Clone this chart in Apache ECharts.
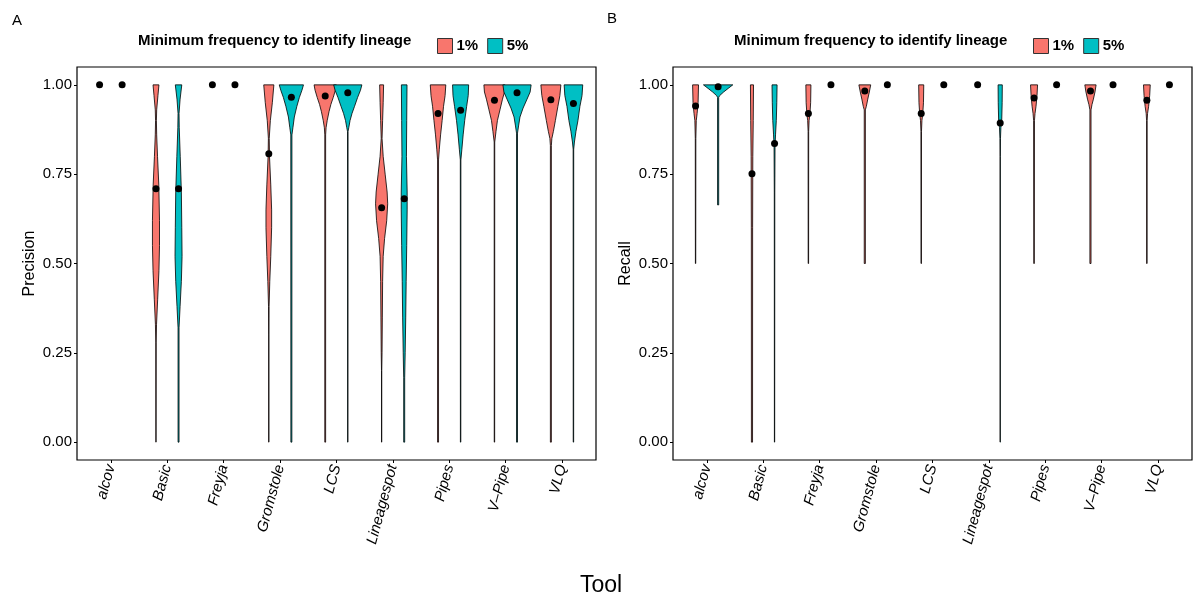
<!DOCTYPE html>
<html>
<head>
<meta charset="utf-8">
<title>Precision / Recall by tool</title>
<script src="https://cdn.jsdelivr.net/npm/echarts@6/dist/echarts.min.js"></script>
<style>
  html, body { margin: 0; padding: 0; background: #fff; }
  #chart { width: 1196px; height: 600px; }
</style>
</head>
<body>
<div id="chart"></div>
<script>
// tools on the x axis
var tools = ['alcov', 'Basic', 'Freyja', 'Gromstole', 'LCS', 'Lineagespot', 'Pipes', 'V\u2013Pipe', 'VLQ'];
var yTicks = [0, 0.25, 0.5, 0.75, 1];

// mean values (black dots)
var precisionMean1 = [1, 0.709, 1, 0.807, 0.969, 0.656, 0.92, 0.957, 0.958];
var precisionMean5 = [1, 0.709, 1, 0.965, 0.978, 0.681, 0.929, 0.978, 0.948];
var recallMean1 = [0.941, 0.751, 0.92, 0.983, 0.92, 1, 0.963, 0.983, 0.957];
var recallMean5 = [0.995, 0.836, 1, 1, 1, 0.893, 1, 1, 1];

// violin profiles: [value, relative density width (100 = widest)], null = no spread
var precisionViolin1 = [
  null,
  [[1,21],[0.97,14],[0.93,5],[0.9,3],[0.86,5],[0.8,11],[0.72,20],[0.62,25],[0.55,25],[0.48,21],[0.4,12],[0.33,4],[0.28,1.5],[0,0.8]],
  null,
  [[1,36],[0.95,25],[0.9,11],[0.85,3],[0.8,5],[0.72,14],[0.65,20],[0.6,20],[0.52,14],[0.45,7],[0.38,2],[0.3,1],[0,1]],
  [[1,79],[0.985,72],[0.965,57],[0.945,40],[0.925,27],[0.9,14],[0.88,6],[0.86,3],[0,3]],
  [[1,14],[0.95,11],[0.9,7],[0.85,3],[0.8,11],[0.75,25],[0.7,39],[0.667,43],[0.62,36],[0.57,21],[0.52,11],[0.45,7],[0.35,5],[0.25,3],[0.2,1],[0,1]],
  [[1,55],[0.97,50],[0.94,39],[0.9,29],[0.86,18],[0.82,9],[0.79,3.5],[0,3.5]],
  [[1,75],[0.98,71],[0.96,57],[0.93,39],[0.9,21],[0.87,11],[0.84,2],[0,1.5]],
  [[1,71],[0.97,64],[0.94,50],[0.9,32],[0.87,18],[0.85,7],[0.83,3.5],[0,3.5]]
];
var precisionViolin5 = [
  null,
  [[1,23],[0.96,11],[0.92,3.5],[0.88,5],[0.8,12],[0.7,20],[0.6,23],[0.52,25],[0.45,20],[0.38,11],[0.32,3.5],[0,3.5]],
  null,
  [[1,86],[0.985,75],[0.965,57],[0.94,39],[0.91,21],[0.88,11],[0.86,4],[0,3.5]],
  [[1,100],[0.985,90],[0.965,70],[0.94,48],[0.92,30],[0.9,16],[0.88,7],[0.87,2],[0,1.2]],
  [[1,20],[0.9,18],[0.8,16],[0.7,21],[0.65,21],[0.55,18],[0.45,14],[0.35,11],[0.25,7],[0.18,3.5],[0,3.5]],
  [[1,57],[0.97,54],[0.94,43],[0.9,29],[0.86,18],[0.82,9],[0.79,2],[0,1.5]],
  [[1,100],[0.98,93],[0.96,71],[0.935,43],[0.91,21],[0.885,11],[0.865,3.5],[0,3.5]],
  [[1,66],[0.97,61],[0.94,46],[0.9,32],[0.87,18],[0.84,7],[0.82,2],[0,1.5]]
];
var recallViolin1 = [
  [[1,21],[0.95,18],[0.92,11],[0.9,5],[0.85,2],[0.5,1.2]],
  [[1,11],[0.9,9],[0.8,6],[0.6,4.5],[0,4]],
  [[1,18],[0.95,16],[0.92,11],[0.9,5],[0.87,2],[0.5,1.5]],
  [[1,42],[0.98,32],[0.96,21],[0.94,11],[0.93,4],[0.5,4]],
  [[1,18],[0.95,16],[0.92,11],[0.9,5],[0.87,2],[0.5,1.5]],
  null,
  [[1,25],[0.97,21],[0.94,14],[0.92,7],[0.9,3],[0.5,1.8]],
  [[1,40],[0.98,32],[0.96,21],[0.945,11],[0.93,4],[0.5,4]],
  [[1,24],[0.97,20],[0.94,12.5],[0.92,5],[0.9,2],[0.5,1.5]]
];
var recallViolin5 = [
  [[1,104],[0.99,71],[0.98,39],[0.97,11],[0.965,4],[0.664,4]],
  [[1,18],[0.95,16],[0.9,12.5],[0.86,7],[0.83,3.5],[0.7,1.8],[0,1]],
  null,
  null,
  null,
  [[1,15],[0.95,14],[0.9,11],[0.88,5],[0.85,2],[0.8,1],[0,1]],
  null,
  null,
  null
];

var RED = '#F8766D', TEAL = '#00BFC4';
var FONT = "'Liberation Sans', Arial, Helvetica, sans-serif";
var DODGE = 0.2;      // half dodge distance, in category units
var MAXW = 0.5;       // full violin width at density 100, in category units

var chart = echarts.init(document.getElementById('chart'));

function violinSeries(name, profiles, off, color, axis) {
  var data = [];
  profiles.forEach(function (p, i) { if (p) data.push([i + 1, 1]); });
  return {
    name: name,
    type: 'custom',
    xAxisIndex: axis, yAxisIndex: axis,
    itemStyle: { color: color },
    encode: { x: 0, y: 1 },
    data: data,
    z: 2,
    renderItem: function (params, api) {
      var xi = api.value(0);
      var prof = profiles[xi - 1];
      var unit = api.size([1, 0])[0];
      var hw = function (w) { return w / 100 * MAXW * unit / 2; };
      var right = prof.map(function (d) {
        var p = api.coord([xi + off, d[0]]);
        return [p[0] + hw(d[1]), p[1]];
      });
      var left = prof.slice().reverse().map(function (d) {
        var p = api.coord([xi + off, d[0]]);
        return [p[0] - hw(d[1]), p[1]];
      });
      return {
        type: 'polygon',
        shape: { points: right.concat(left) },
        style: { fill: color, stroke: '#000', lineWidth: 0.8 }
      };
    }
  };
}

function meanSeries(name, means, off, axis) {
  return {
    name: name,
    type: 'scatter',
    xAxisIndex: axis, yAxisIndex: axis,
    symbolSize: 7,
    itemStyle: { color: '#000', opacity: 1 },
    z: 5,
    silent: true,
    data: means.map(function (m, i) { return [i + 1 + off, m]; })
  };
}

function xAxisDef(idx) {
  return {
    type: 'value', gridIndex: idx, min: 0.4, max: 9.6,
    axisLine: { show: false, onZero: false },
    splitLine: { show: false },
    axisTick: { show: true, length: 3, customValues: [1,2,3,4,5,6,7,8,9], lineStyle: { color: '#000' } },
    axisLabel: {
      customValues: [1,2,3,4,5,6,7,8,9],
      rotate: 75, margin: 5,
      fontStyle: 'italic', fontSize: 15, color: '#000', fontFamily: FONT,
      formatter: function (v) { return tools[Math.round(v) - 1]; }
    }
  };
}

function yAxisDef(idx, name) {
  return {
    type: 'value', gridIndex: idx, min: -0.05, max: 1.05,
    name: name, nameLocation: 'middle', nameGap: 39,
    nameTextStyle: { fontSize: 16, color: '#000', fontFamily: FONT },
    axisLine: { show: false, onZero: false },
    splitLine: { show: false },
    axisTick: { show: true, length: 3, customValues: yTicks, lineStyle: { color: '#000' } },
    axisLabel: {
      customValues: yTicks, margin: 5,
      fontSize: 15, color: '#000', fontFamily: FONT,
      formatter: function (v) { return v.toFixed(2); }
    }
  };
}

function legendDef(left) {
  return {
    left: left, top: 33,
    icon: 'rect', itemWidth: 15, itemHeight: 15, itemGap: 9,
    selectedMode: false,
    textStyle: { fontSize: 15, fontWeight: 'bold', color: '#000', fontFamily: FONT, padding: [0, 0, 0, -1] },
    data: [
      { name: '1%', itemStyle: { color: RED, borderColor: '#333', borderWidth: 1 } },
      { name: '5%', itemStyle: { color: TEAL, borderColor: '#333', borderWidth: 1 } }
    ]
  };
}

function label(text, x, y, size, weight) {
  return {
    type: 'text', left: x, top: y,
    style: { text: text, fontSize: size, fontWeight: weight || 'normal', fill: '#000', fontFamily: FONT }
  };
}

var option = {
  backgroundColor: '#fff',
  animation: false,
  grid: [
    { left: 77, top: 67, width: 519, height: 393, show: true, borderColor: '#000', borderWidth: 1.2, backgroundColor: '#fff' },
    { left: 673, top: 67, width: 519, height: 393, show: true, borderColor: '#000', borderWidth: 1.2, backgroundColor: '#fff' }
  ],
  xAxis: [xAxisDef(0), xAxisDef(1)],
  yAxis: [yAxisDef(0, 'Precision'), yAxisDef(1, 'Recall')],
  legend: [legendDef(432), legendDef(1028)],
  graphic: [
    label('A', 12, 13, 15),
    label('B', 607, 11, 15),
    label('Minimum frequency to identify lineage', 138, 33, 15, 'bold'),
    label('Minimum frequency to identify lineage', 734, 33, 15, 'bold'),
    label('Tool', 580, 574, 23)
  ],
  series: [
    violinSeries('1%', precisionViolin1, -DODGE, RED, 0),
    violinSeries('5%', precisionViolin5, DODGE, TEAL, 0),
    meanSeries('mean 1% A', precisionMean1, -DODGE, 0),
    meanSeries('mean 5% A', precisionMean5, DODGE, 0),
    violinSeries('1%', recallViolin1, -DODGE, RED, 1),
    violinSeries('5%', recallViolin5, DODGE, TEAL, 1),
    meanSeries('mean 1% B', recallMean1, -DODGE, 1),
    meanSeries('mean 5% B', recallMean5, DODGE, 1)
  ]
};

chart.setOption(option);
</script>
</body>
</html>
